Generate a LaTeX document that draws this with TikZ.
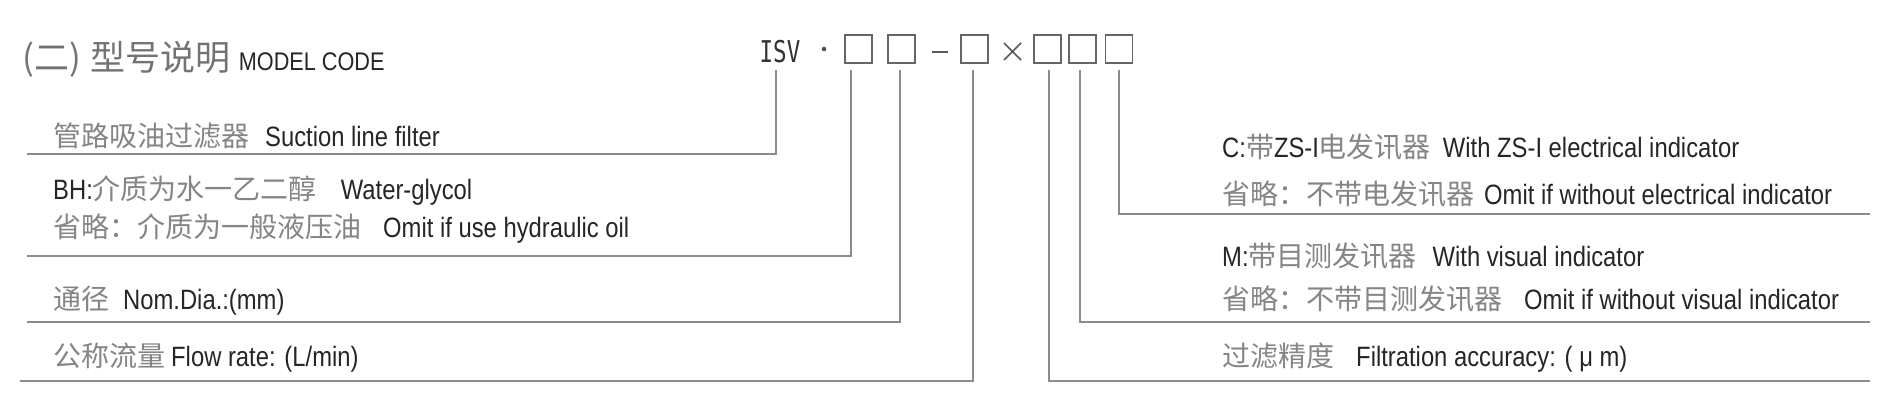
\documentclass[tikz,border=0pt]{standalone}
\usepackage{fontspec}
\setmainfont[FakeStretch=0.85]{Liberation Sans}
\newfontfamily\cjk{Noto Sans CJK SC}
\newfontfamily\codefont[FakeStretch=0.75]{DejaVu Sans Mono}
\newcommand{\zh}[1]{{\cjk\fontsize{28}{30}\selectfont\color{black!48}#1}}

\begin{document}
\begin{tikzpicture}[x=1pt, y=-1pt,
    box/.style={draw=black!60, line width=1.8pt, minimum width=27pt,
      minimum height=28pt, inner sep=0pt},
    lead/.style={draw=black!45, line width=1.8pt},
    desc/.style={anchor=base west, inner sep=0pt, text=black!85,
      font=\fontsize{28}{30}\selectfont}]
  \def\L{27}
  \def\R{1870}
  \fill[white] (0,0) rectangle (1892,400);
  \useasboundingbox (0,0) rectangle (1892,400);
  % title
  \node[anchor=base west, inner sep=0pt] (title) at (22,70)
    {{\cjk\fontsize{35}{40}\selectfont\color{black!55}(二)\hspace{10pt}型号说明}\hspace{8pt}{\fontsize{25.5}{28}\selectfont\color{black!85}MODEL CODE}};
  % code line
  \node[anchor=base, inner sep=0pt, text=black!80,
    font=\codefont\fontsize{30}{32}\selectfont] (isv) at (780,62) {ISV};
  \node[circle, fill=black!70, inner sep=1.6pt] (dot) at (824,49) {};
  \node[box] (b1) at (858.5,49) {};
  \node[box] (b2) at (901.5,49) {};
  \node[box] (b3) at (974.5,49) {};
  \node[box] (b4) at (1047.5,49) {};
  \node[box] (b5) at (1082.5,49) {};
  \node[box] (b6) at (1119,49) {};
  \draw[black!65, line width=1.8pt] (932,52) -- (948,52);
  \draw[black!65, line width=1.5pt] (1004,43) -- (1021,60) (1004,60) -- (1021,43);
  \coordinate (top) at (0,70);
  % left side
  \node[desc] (d1) at (53,146) {\zh{管路吸油过滤器}\hspace{16pt}Suction line filter};
  \node[desc] (d2) at (53,199) {BH:\zh{介质为水一乙二醇}\hspace{24pt}Water-glycol};
  \node[desc] (d3) at (53,237) {\zh{省略：介质为一般液压油}\hspace{22pt}Omit if use hydraulic oil};
  \node[desc] (d4) at (53,309) {\zh{通径}\hspace{14pt}Nom.Dia.:(mm)};
  \node[desc] (d5) at (53,366) {\zh{公称流量}\hspace{6pt}Flow rate: (L/min)};
  % right side
  \node[desc] (r1) at (1222,157) {C:\zh{带}ZS-I\zh{电发讯器}\hspace{12pt}With ZS-I electrical indicator};
  \node[desc] (r2) at (1222,204) {\zh{省略：不带电发讯器}\hspace{10pt}Omit if without electrical indicator};
  \node[desc] (r3) at (1222,266) {M:\zh{带目测发讯器}\hspace{16pt}With visual indicator};
  \node[desc] (r4) at (1222,309) {\zh{省略：不带目测发讯器}\hspace{22pt}Omit if without visual indicator};
  \node[desc] (r5) at (1222,366) {\zh{过滤精度}\hspace{22pt}Filtration accuracy: ( μ m)};
  % leads
  \coordinate (e1) at (\L,154);
  \coordinate (e2) at (\L,256);
  \coordinate (e3) at (\L,322);
  \coordinate (e4) at (20,381);
  \coordinate (e5) at (\R,214);
  \coordinate (e6) at (\R,322);
  \coordinate (e7) at (\R,381);
  \draw[lead] ([xshift=-4pt]isv.south |- top) |- (e1);
  \draw[lead] ([xshift=-7.5pt]b1.south |- top) |- (e2);
  \draw[lead] ([xshift=-1.5pt]b2.south |- top) |- (e3);
  \draw[lead] ([xshift=-1.5pt]b3.south |- top) |- (e4);
  \draw[lead] ([xshift=1.5pt]b4.south |- top) |- (e7);
  \draw[lead] ([xshift=-2.5pt]b5.south |- top) |- (e6);
  \draw[lead] (b6.south |- top) |- (e5);
\end{tikzpicture}
\end{document}
